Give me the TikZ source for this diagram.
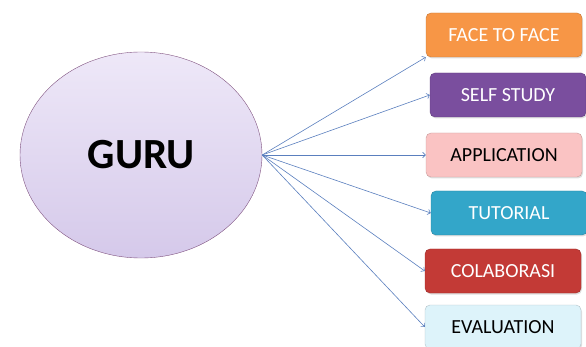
\documentclass[tikz,border=0pt]{standalone}
\usepackage{fontspec}
\setmainfont{Carlito}
\usetikzlibrary{arrows.meta}
\usetikzlibrary{shapes.geometric}
\usetikzlibrary{shadows}
\tikzset{>=Straight Barb}
\definecolor{myorange}{HTML}{F79646}
\definecolor{mypurple}{HTML}{7A4E9E}
\definecolor{mypink}{HTML}{FAC3C3}
\definecolor{myteal}{HTML}{33A6C9}
\definecolor{myred}{HTML}{C33A36}
\definecolor{mycyan}{HTML}{DDF3FA}
\definecolor{mylavtop}{HTML}{EEE8F8}
\definecolor{mylavbot}{HTML}{D5C9EA}
\definecolor{myline}{HTML}{5A7FBE}
\tikzset{
	box/.style={rounded corners=5pt, minimum width=156pt, minimum height=44pt,
		font=\fontsize{20}{24}\selectfont, draw=#1!80!black, fill=#1,
		drop shadow={opacity=0.25, shadow xshift=1pt, shadow yshift=-1.5pt}},
	link/.style={->, draw=myline, line width=0.6pt},
}

\begin{document}
\begin{tikzpicture}[x=1pt, y=-1pt]
	\useasboundingbox (0,0) rectangle (586,347);
	
	\node[ellipse, draw=violet!35!gray, top color=mylavtop, bottom color=mylavbot,
		minimum width=242pt, minimum height=206pt,
		font=\fontsize{43}{48}\selectfont\bfseries] (guru) at (141,155) {GURU};
	
	\node[box=myorange, text=white] (f2f) at (504,35) {FACE TO FACE};
	\node[box=mypurple, text=white] (self) at (508,95) {SELF STUDY};
	\node[box=mypink, text=black] (app) at (504,155) {APPLICATION};
	\node[box=myteal, text=white] (tut) at (509,213) {TUTORIAL};
	\node[box=myred, text=white] (col) at (503,271) {COLABORASI};
	\node[box=mycyan, text=black] (eva) at (503,327) {EVALUATION};
	
	\draw[link] (guru.east) -- (f2f.south west);
	\foreach \dest in {self,app,tut,col,eva}
	\draw[link] (guru.east) -- (\dest.west);
	
\end{tikzpicture}
\end{document}
